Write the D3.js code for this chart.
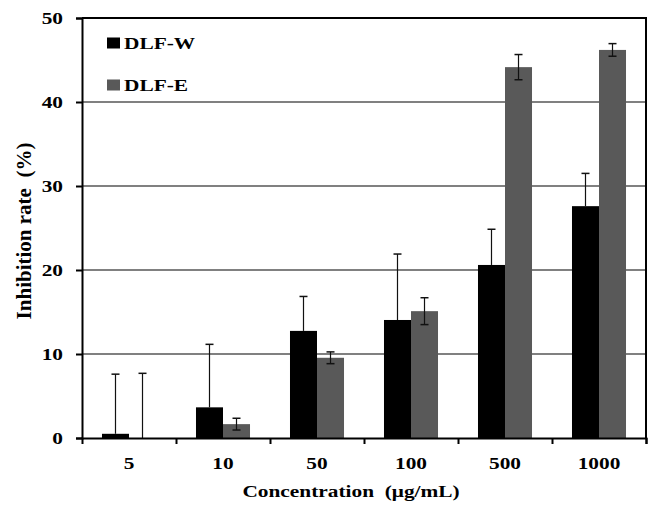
<!DOCTYPE html>
<html>
<head>
<meta charset="utf-8">
<script src="https://cdn.jsdelivr.net/npm/d3@7"></script>
<style>
  body { margin: 0; background: #fff; }
  text { font-family: "Liberation Serif", "Times New Roman", serif; font-weight: bold; fill: #000; }
</style>
</head>
<body>
<svg id="chart" width="651" height="507"></svg>
<script>
var concentrations = ["5", "10", "50", "100", "500", "1000"];
var series_names = ["DLF-W", "DLF-E"];
var series_colors = ["#000000", "#595959"];
var dlf_w_mean = [0.5, 3.65, 12.75, 14.05, 20.6, 27.6];
var dlf_w_sd = [7.1, 7.5, 4.1, 7.85, 4.25, 3.9];
var dlf_e_mean = [0, 1.65, 9.55, 15.1, 44.15, 46.2];
var dlf_e_sd = [7.7, 0.7, 0.7, 1.6, 1.5, 0.75];
var y_ticks = [0, 10, 20, 30, 40, 50];

var svg = d3.select("#chart");
var plot = { left: 82, right: 646, top: 18, bottom: 438 };
var stretch = 1.22;   // the reference text is a bit wider than it is tall

var x0 = d3.scaleBand().domain(concentrations).range([plot.left, plot.right]);
var x1 = d3.scaleBand().domain(series_names).range([0, x0.bandwidth()]).paddingOuter(0.74);
var y = d3.scaleLinear().domain([0, 50]).range([plot.bottom, plot.top]);

function wide_text(g, x, y, txt, anchor, size) {
  return g.append("text")
    .attr("transform", "translate(" + x + "," + y + ") scale(" + stretch + ",1)")
    .attr("text-anchor", anchor).style("font-size", size + "px").text(txt);
}

var rows = concentrations.map(function(c, i) {
  return [
    { conc: c, name: series_names[0], v: dlf_w_mean[i], sd: dlf_w_sd[i], color: series_colors[0], lower: false },
    { conc: c, name: series_names[1], v: dlf_e_mean[i], sd: dlf_e_sd[i], color: series_colors[1], lower: true }
  ];
});

// gridlines
svg.append("g").selectAll("line.grid").data(y_ticks.filter(function(d) { return d > 0 && d < 50; }))
  .enter().append("line").attr("class", "grid")
  .attr("x1", plot.left).attr("x2", plot.right)
  .attr("y1", function(d) { return y(d); }).attr("y2", function(d) { return y(d); })
  .attr("stroke", "#808080").attr("stroke-width", 2);

// bars
var groups = svg.append("g").selectAll("g.grp").data(rows).enter().append("g")
  .attr("transform", function(d, i) { return "translate(" + x0(concentrations[i]) + ",0)"; });
groups.selectAll("rect").data(function(d) { return d; }).enter().append("rect")
  .attr("x", function(d) { return x1(d.name); })
  .attr("width", x1.bandwidth())
  .attr("y", function(d) { return y(d.v); })
  .attr("height", function(d) { return y(0) - y(d.v); })
  .attr("fill", function(d) { return d.color; });

// error bars (black bars show only the upper half)
var err = groups.selectAll("g.err").data(function(d) { return d; }).enter().append("g")
  .attr("transform", function(d) { return "translate(" + (x1(d.name) + x1.bandwidth() / 2) + ",0)"; });
err.append("line")
  .attr("x1", 0).attr("x2", 0)
  .attr("y1", function(d) { return d.lower ? y(Math.max(0, d.v - d.sd)) : y(d.v); })
  .attr("y2", function(d) { return y(d.v + d.sd); })
  .attr("stroke", "#111").attr("stroke-width", 1.2);
err.append("line")
  .attr("x1", -4).attr("x2", 4)
  .attr("y1", function(d) { return y(d.v + d.sd); }).attr("y2", function(d) { return y(d.v + d.sd); })
  .attr("stroke", "#111").attr("stroke-width", 1.5);
err.filter(function(d) { return d.lower && d.v - d.sd > 0; }).append("line")
  .attr("x1", -4).attr("x2", 4)
  .attr("y1", function(d) { return y(d.v - d.sd); }).attr("y2", function(d) { return y(d.v - d.sd); })
  .attr("stroke", "#111").attr("stroke-width", 1.5);

// plot frame (top and right)
svg.append("path")
  .attr("d", "M" + plot.left + "," + plot.top + "H" + plot.right + "V" + plot.bottom)
  .attr("fill", "none").attr("stroke", "#000").attr("stroke-width", 2);

// axes
var yAxis = svg.append("g").attr("transform", "translate(" + plot.left + ",0)")
  .call(d3.axisLeft(y).tickValues(y_ticks).tickSize(6).tickFormat(""));
var xAxis = svg.append("g").attr("transform", "translate(0," + plot.bottom + ")")
  .call(d3.axisBottom(d3.scaleLinear().domain([0, 6]).range([plot.left, plot.right]))
    .ticks(6).tickSize(6).tickFormat(""));
[yAxis, xAxis].forEach(function(a) {
  a.select(".domain").attr("stroke", "#000").attr("stroke-width", 2);
  a.selectAll(".tick line").attr("stroke", "#000").attr("stroke-width", 2);
});
xAxis.selectAll(".tick").filter(function(d) { return d === 0; }).remove();

// tick labels
var labels = svg.append("g");
y_ticks.forEach(function(t) { wide_text(labels, 63, y(t) + 6, String(t), "end", 17.5); });
concentrations.forEach(function(c) { wide_text(labels, x0(c) + x0.bandwidth() / 2, 469, c, "middle", 17.5); });

// axis titles
wide_text(svg, 351, 497, "Concentration\u00a0\u00a0(\u03bcg/mL)", "middle", 17.5);
svg.append("text").attr("transform", "translate(31,231) rotate(-90)").attr("text-anchor", "middle")
  .style("font-size", "21px").text("Inhibition rate\u00a0\u00a0(%)");

// legend
var legend = svg.append("g").selectAll("g").data(series_names).enter().append("g")
  .attr("transform", function(d, i) { return "translate(107," + (37.5 + i * 42) + ")"; });
legend.append("rect").attr("width", 13).attr("height", 11)
  .attr("fill", function(d, i) { return series_colors[i]; });
legend.each(function(d) { wide_text(d3.select(this), 17, 11, d, "start", 17.5); });
</script>
</body>
</html>
